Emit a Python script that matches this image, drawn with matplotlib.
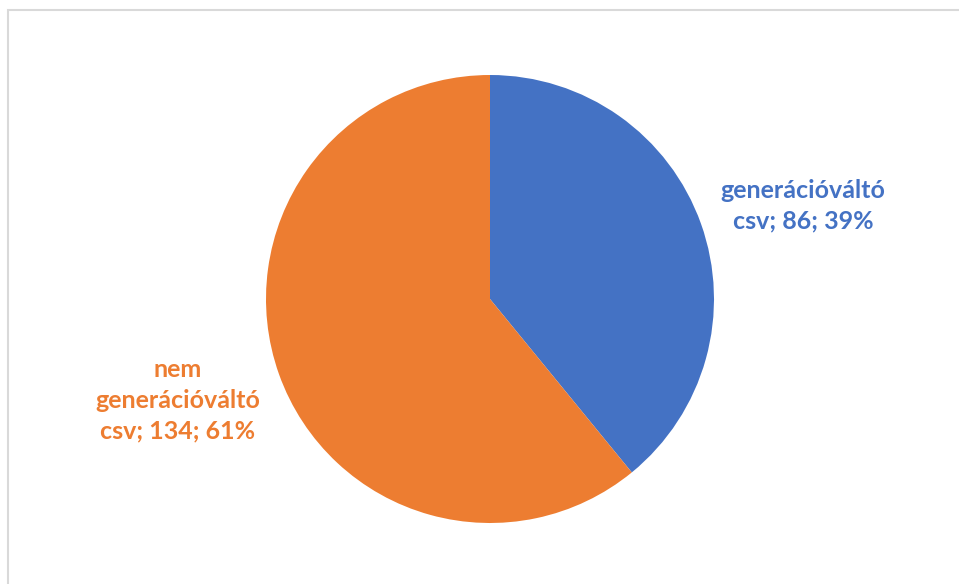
import matplotlib.pyplot as plt
from matplotlib.patches import Rectangle

# slice data
labels = ["generációváltó\ncsv", "nem\ngenerációváltó\ncsv"]
counts = [86, 134]
colors = ["#4472C4", "#ED7D31"]

W, H = 959, 584
fig = plt.figure(figsize=(W / 100, H / 100), dpi=100)

# chart area border (runs off the right and bottom edges)
fig.add_artist(Rectangle((8 / W, -0.1), 2, (H - 10) / H + 0.1, transform=fig.transFigure,
                         fill=False, edgecolor="#d9d9d9", linewidth=1.5))

cx, cy, r = 490, 299, 224
ax = fig.add_axes([(cx - r) / W, (H - cy - r) / H, 2 * r / W, 2 * r / H])
ax.pie(counts, colors=colors, startangle=90, counterclock=False, radius=1,
       wedgeprops=dict(linewidth=0))
ax.set_xlim(-1, 1)
ax.set_ylim(-1, 1)
ax.set_aspect("equal")
ax.axis("off")

total = sum(counts)
label_pos = [((803 - cx) / r, (cy - 206) / r), ((178 - cx) / r, (cy - 400) / r)]
for lab, n, c, (x, y) in zip(labels, counts, colors, label_pos):
    pct = round(100 * n / total)
    ax.text(x, y, f"{lab}; {n}; {pct}%", color=c, ha="center", va="center",
            fontsize=18, fontweight="bold", family="Lato", linespacing=1.4,
            clip_on=False)

fig.savefig("out.png", dpi=100)
